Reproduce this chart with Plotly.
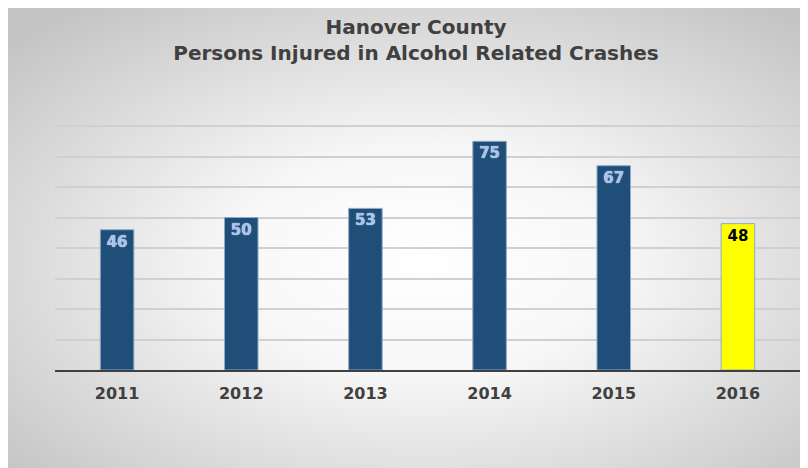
import base64
import plotly.graph_objects as go

years = ["2011", "2012", "2013", "2014", "2015", "2016"]
injured = [46, 50, 53, 75, 67, 48]
bar_colors = ["#1F4E79", "#1F4E79", "#1F4E79", "#1F4E79", "#1F4E79", "#FFFF00"]
label_colors = ["#A8C4EE", "#A8C4EE", "#A8C4EE", "#A8C4EE", "#A8C4EE", "#000000"]
title_lines = ["Hanover County", "Persons Injured in Alcohol Related Crashes"]

# figure is placed by the page with an 8px body margin
W, H = 800, 461
ML, MR, MT, MB = 47, 8, 115, 99
FONT = "DejaVu Sans"

svg = (
    '<svg xmlns="http://www.w3.org/2000/svg" width="800" height="461" viewBox="0 0 800 461" preserveAspectRatio="none">'
    '<defs><radialGradient id="g" cx="52%" cy="55%" r="70%">'
    '<stop offset="0%" stop-color="#ffffff"/>'
    '<stop offset="35%" stop-color="#f7f7f7"/>'
    '<stop offset="100%" stop-color="#c4c4c4"/>'
    '</radialGradient></defs>'
    '<rect width="800" height="461" fill="url(#g)"/></svg>'
)
bg_uri = "data:image/svg+xml;base64," + base64.b64encode(svg.encode()).decode()

pw, ph = W - ML - MR, H - MT - MB

fig = go.Figure(
    go.Bar(
        x=years,
        y=injured,
        marker=dict(color=bar_colors, line=dict(color="#8FA9C9", width=1)),
        text=[str(v) for v in injured],
        textposition="inside",
        insidetextanchor="end",
        textangle=0,
        textfont=dict(
            family=FONT,
            size=15,
            color=label_colors,
            weight="bold",
            shadow=["0 0 1px #ffffff"] * 5 + ["none"],
        ),
        width=0.27,
        cliponaxis=False,
    )
)

fig.update_layout(
    width=W,
    height=H,
    paper_bgcolor="#ffffff",
    plot_bgcolor="rgba(0,0,0,0)",
    margin=dict(l=ML, r=MR, t=MT, b=MB),
    showlegend=False,
    title=dict(
        text="<br>".join(title_lines),
        x=0.51,
        xanchor="center",
        y=1 - 26 / H,
        yanchor="top",
        font=dict(family=FONT, size=20, color="#404040", weight="bold"),
    ),
    images=[
        dict(
            source=bg_uri,
            xref="paper",
            yref="paper",
            x=-ML / pw,
            y=1 + MT / ph,
            sizex=W / pw,
            sizey=H / ph,
            xanchor="left",
            yanchor="top",
            sizing="stretch",
            layer="below",
        )
    ],
)

fig.update_xaxes(
    showline=True,
    linecolor="#404040",
    linewidth=2,
    ticks="outside",
    ticklen=8,
    tickcolor="rgba(0,0,0,0)",
    tickfont=dict(family=FONT, size=16, color="#404040", weight="bold"),
    showgrid=False,
)
fig.update_yaxes(
    range=[0, 81],
    tickvals=[10, 20, 30, 40, 50, 60, 70, 80],
    showticklabels=False,
    showgrid=True,
    gridcolor="#D0D0D0",
    gridwidth=1.5,
    zeroline=False,
)

fig.write_html("out.html")
